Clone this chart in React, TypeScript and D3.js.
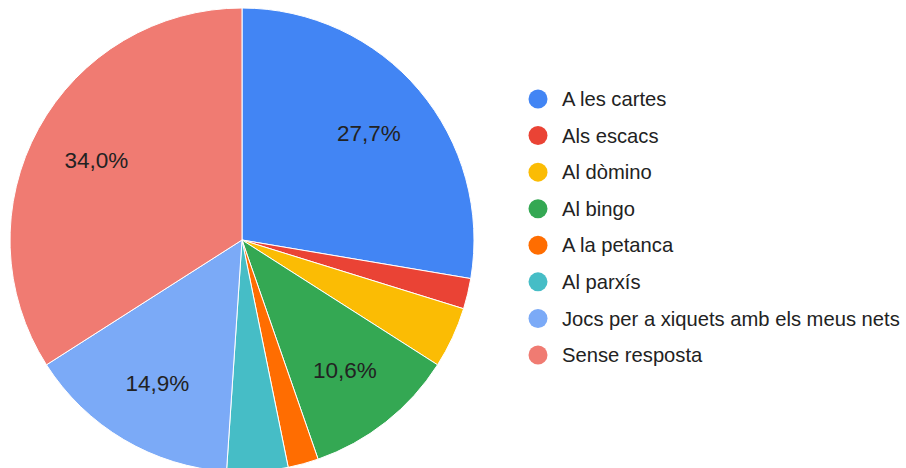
import * as d3 from 'd3';

const categories = [
  'A les cartes',
  'Als escacs',
  'Al dòmino',
  'Al bingo',
  'A la petanca',
  'Al parxís',
  'Jocs per a xiquets amb els meus nets',
  'Sense resposta',
];
const counts = [13, 1, 2, 5, 1, 2, 7, 16];
const colors = ['#4285F4', '#EA4335', '#FBBC04', '#34A853', '#FF6D01', '#46BDC6', '#7BAAF7', '#F07B72'];

type Slice = { name: string; value: number; color: string };

export default function App() {
  const width = 906;
  const height = 468;
  const cx = 242;
  const cy = 240;
  const radius = 232;

  const data: Slice[] = categories.map((name, i) => ({ name, value: counts[i], color: colors[i] }));
  const total = d3.sum(counts);

  const pie = d3
    .pie<Slice>()
    .sort(null)
    .value((d) => d.value);
  const arcs = pie(data);

  const arc = d3.arc<d3.PieArcDatum<Slice>>().innerRadius(0).outerRadius(radius);
  const labelArc = d3
    .arc<d3.PieArcDatum<Slice>>()
    .innerRadius(radius * 0.716)
    .outerRadius(radius * 0.716);

  const fmt = (v: number) => ((v / total) * 100).toFixed(1).replace('.', ',') + '%';

  // legend rows
  const legendY = d3
    .scalePoint()
    .domain(categories)
    .range([99, 355]);

  return (
    <svg
      width={width}
      height={height}
      style={{ position: 'absolute', left: 0, top: 0, background: '#fff' }}
      fontFamily="Arial, 'Liberation Sans', sans-serif"
    >
      <g transform={`translate(${cx}, ${cy})`}>
        {arcs.map((a, i) => (
          <path key={i} d={arc(a)!} fill={a.data.color} stroke="#fff" strokeWidth={1} />
        ))}
        {arcs
          .filter((a) => a.data.value / total > 0.05)
          .map((a, i) => {
            const [x, y] = labelArc.centroid(a);
            return (
              <text key={i} x={x} y={y} dy="0.35em" textAnchor="middle" fontSize={22.5} fill="#222">
                {fmt(a.data.value)}
              </text>
            );
          })}
      </g>
      {/* Legend */}
      <g>
        {categories.map((c, i) => (
          <g key={c} transform={`translate(0, ${legendY(c)})`}>
            <circle cx={538} cy={0} r={9.5} fill={colors[i]} />
            <text x={562} y={0} dy="0.35em" fontSize={20.2} fill="#222">
              {c}
            </text>
          </g>
        ))}
      </g>
    </svg>
  );
}
